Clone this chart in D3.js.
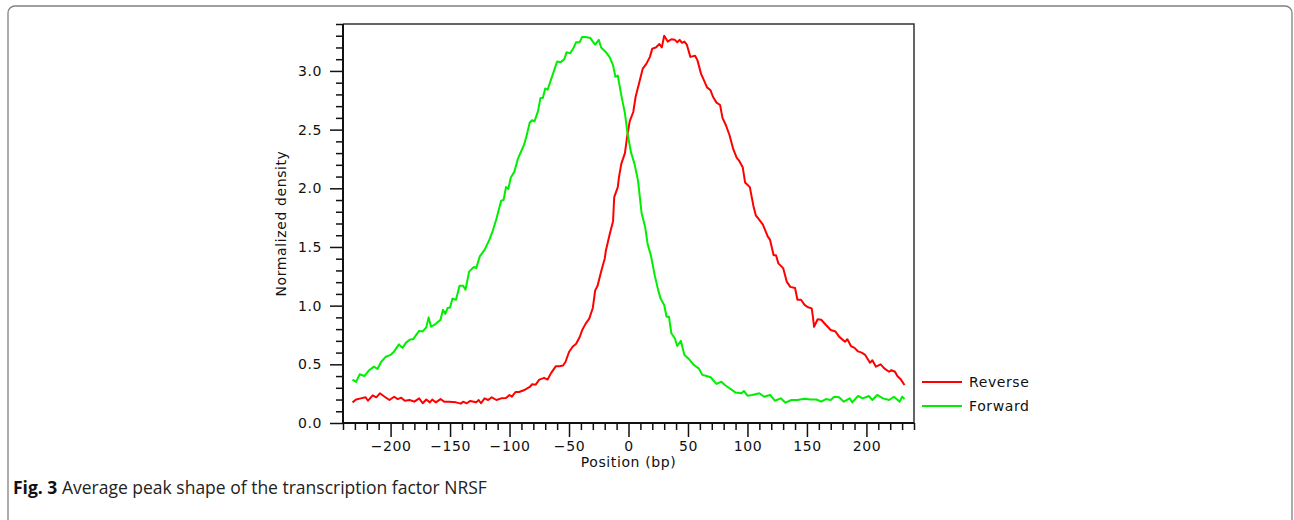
<!DOCTYPE html>
<html>
<head>
<meta charset="utf-8">
<title>Average peak shape of NRSF</title>
<script src="https://cdn.jsdelivr.net/npm/d3@7"></script>
<style>
    body { margin: 0; background: #fff; }
    .tickText text { font-family: "DejaVu Sans", sans-serif; font-size: 14px; letter-spacing: 0.6px; fill: #111; }
    .tickText line { stroke: #111; stroke-width: 1.5; }
    .label { font-family: "DejaVu Sans", sans-serif; font-size: 14px; letter-spacing: 0.6px; fill: #111; }
    .caption { font-family: "Open Sans", sans-serif; font-size: 17.5px; fill: #222; }
</style>
</head>
<body>
<script>
//anonymous function to wrap script
(function(){

    //pseudo-global variables
    var positionTicks = [-200, -150, -100, -50, 0, 50, 100, 150, 200]; //labelled x ticks (bp)
    var densityTicks = [0, 0.5, 1.0, 1.5, 2.0, 2.5, 3.0]; //labelled y ticks
    var seriesNames = ["Reverse", "Forward"];
    var seriesColors = ["#ff0000", "#00ee00"];

    //[position (bp), normalized density]
    var reversePts = [
        [-232,0.176],[-229,0.20],[-225,0.21],[-221,0.219],[-219,0.19],[-215,0.236],[-212,0.219],[-209,0.253],
        [-205,0.224],[-201,0.196],[-197,0.224],[-194,0.204],[-191,0.216],[-188,0.19],[-184,0.196],[-180,0.182],
        [-176,0.21],[-173,0.168],[-170,0.20],[-167,0.176],[-165,0.20],[-162,0.176],[-158,0.204],[-155,0.182],
        [-151,0.182],[-145,0.176],[-141,0.165],[-139,0.182],[-136,0.168],[-133,0.188],[-128,0.176],[-126,0.196],
        [-124,0.168],[-121,0.21],[-118,0.196],[-115,0.219],[-111,0.196],[-107,0.21],[-103,0.213],[-100,0.239],
        [-98,0.224],[-95,0.264],[-92,0.264],[-88,0.279],[-83,0.307],[-81,0.33],[-78,0.327],[-75,0.37],
        [-72,0.38],[-71,0.385],[-68,0.37],[-65,0.427],[-61,0.484],[-58,0.484],[-55,0.49],[-53,0.52],
        [-50,0.605],[-47,0.65],[-44,0.675],[-41,0.733],[-39,0.79],[-36,0.847],[-33,0.89],[-30,0.98],
        [-28,1.13],[-26,1.17],[-23,1.29],[-20,1.40],[-19,1.47],[-16,1.60],[-15,1.64],[-13,1.72],
        [-12,1.925],[-9,2.01],[-8,2.095],[-6,2.21],[-3,2.30],[-1,2.45],[1,2.57],[4,2.65],
        [6,2.78],[9,2.90],[12,3.02],[15,3.06],[18,3.12],[20,3.19],[23,3.20],[26,3.23],
        [28,3.20],[30,3.30],[33,3.25],[36,3.27],[39,3.265],[41,3.245],[43,3.265],[45,3.24],
        [47,3.25],[49,3.225],[52,3.12],[56,3.13],[58,3.09],[61,2.975],[63,2.93],[66,2.86],
        [69,2.835],[71,2.78],[74,2.73],[77,2.71],[79,2.60],[82,2.535],[85,2.45],[88,2.335],
        [91,2.26],[93,2.235],[96,2.18],[98,2.05],[102,2.01],[105,1.85],[107,1.77],[110,1.73],
        [113,1.69],[117,1.59],[119,1.56],[122,1.43],[124,1.43],[126,1.36],[130,1.32],[133,1.205],
        [136,1.16],[140,1.15],[142,1.05],[145,1.05],[148,1.006],[151,0.986],[154,0.977],[155,0.906],
        [156,0.82],[159,0.884],[162,0.88],[166,0.835],[170,0.793],[174,0.78],[177,0.736],[182,0.693],
        [184,0.713],[187,0.656],[190,0.64],[193,0.61],[196,0.60],[199,0.58],[203,0.514],[205,0.535],
        [208,0.48],[212,0.50],[215,0.465],[219,0.437],[221,0.45],[224,0.437],[226,0.40],[229,0.37],
        [232,0.324]
    ];

    var forwardPts = [
        [-232,0.37],[-229,0.35],[-226,0.415],[-222,0.40],[-218,0.45],[-214,0.48],[-211,0.46],[-208,0.52],
        [-204,0.565],[-200,0.58],[-197,0.61],[-193,0.67],[-190,0.64],[-187,0.685],[-184,0.71],[-181,0.715],
        [-176,0.785],[-173,0.78],[-170,0.815],[-168,0.90],[-166,0.82],[-162,0.845],[-158,0.88],[-156,0.965],
        [-154,0.93],[-152,0.98],[-150,0.985],[-148,1.06],[-145,1.05],[-142,1.17],[-139,1.17],[-137,1.135],
        [-134,1.29],[-130,1.33],[-128,1.32],[-125,1.42],[-121,1.475],[-117,1.56],[-114,1.64],[-111,1.74],
        [-109,1.82],[-107,1.895],[-105,1.90],[-103,2.01],[-101,1.995],[-99,2.09],[-96,2.14],[-93,2.25],
        [-90,2.32],[-88,2.365],[-86,2.435],[-83,2.56],[-81,2.58],[-79,2.57],[-76,2.66],[-74,2.77],
        [-72,2.77],[-70,2.85],[-68,2.84],[-65,2.93],[-62,3.02],[-60,3.08],[-57,3.075],[-54,3.10],
        [-52,3.16],[-49,3.15],[-46,3.20],[-44,3.245],[-41,3.245],[-39,3.29],[-36,3.29],[-32,3.28],
        [-30,3.25],[-28,3.225],[-25,3.265],[-23,3.20],[-19,3.16],[-16,3.12],[-13,3.05],[-11,2.95],
        [-9,2.96],[-6,2.79],[-3,2.64],[-1,2.48],[2,2.31],[5,2.21],[8,2.065],[11,1.79],
        [14,1.67],[16,1.53],[19,1.42],[22,1.26],[25,1.13],[27,1.06],[30,1.006],[32,0.906],
        [34,0.906],[36,0.765],[39,0.72],[41,0.656],[44,0.70],[47,0.58],[51,0.543],[55,0.494],
        [59,0.466],[62,0.41],[65,0.403],[69,0.39],[74,0.333],[78,0.352],[81,0.324],[85,0.296],
        [90,0.259],[95,0.253],[97,0.273],[100,0.233],[104,0.239],[110,0.253],[114,0.224],[119,0.239],
        [123,0.19],[128,0.21],[132,0.173],[137,0.196],[142,0.196],[148,0.207],[153,0.20],[158,0.20],
        [162,0.182],[166,0.204],[170,0.196],[173,0.224],[177,0.219],[181,0.182],[186,0.21],[188,0.176],
        [193,0.23],[197,0.21],[202,0.23],[205,0.196],[209,0.239],[214,0.21],[219,0.196],[223,0.224],
        [228,0.182],[230,0.224],[232,0.204]
    ];

    //begin script when window loads
    window.onload = setChart;

    function setChart(){
        var width = 1294,
            height = 520;

        //plot frame in page pixels
        var left = 343, right = 914, top = 24, bottom = 423;

        var svg = d3.select("body")
            .append("svg")
            .attr("width", width)
            .attr("height", height);

        //outer figure border (rounded, runs off the bottom)
        svg.append("rect")
            .attr("x", 8)
            .attr("y", 6)
            .attr("width", 1284)
            .attr("height", 540)
            .attr("rx", 7)
            .attr("fill", "none")
            .attr("stroke", "#808080")
            .attr("stroke-width", 1.3);

        //scales
        var x = d3.scaleLinear()
            .domain([-240, 240])
            .range([left, right]);

        var y = d3.scaleLinear()
            .domain([0, 3.4])
            .range([bottom, top]);

        //minor tick values (every 10 bp, every 0.1 density)
        var xMinor = d3.range(-240, 241, 10).filter(function(v){ return v % 50 != 0; });
        var yMinor = d3.range(0, 35, 1).map(function(v){ return v / 10; })
            .filter(function(v){ return Math.round(v * 10) % 5 != 0; });

        //x axis - minor then major ticks
        var xMinorAxis = svg.append("g")
            .attr("class", "tickText")
            .attr("transform", "translate(0," + bottom + ")")
            .call(d3.axisBottom(x).tickValues(xMinor).tickSize(7).tickSizeOuter(0).tickFormat(""));
        xMinorAxis.select(".domain").remove();

        var xMajorAxis = svg.append("g")
            .attr("class", "tickText")
            .attr("transform", "translate(0," + bottom + ")")
            .call(d3.axisBottom(x).tickValues(positionTicks).tickSize(14).tickSizeOuter(0).tickPadding(4).tickFormat(d3.format("d")));
        xMajorAxis.select(".domain").remove();

        //y axis - minor then major ticks
        var yMinorAxis = svg.append("g")
            .attr("class", "tickText")
            .attr("transform", "translate(" + left + ",0)")
            .call(d3.axisLeft(y).tickValues(yMinor).tickSize(7).tickSizeOuter(0).tickFormat(""));
        yMinorAxis.select(".domain").remove();

        var yMajorAxis = svg.append("g")
            .attr("class", "tickText")
            .attr("transform", "translate(" + left + ",0)")
            .call(d3.axisLeft(y).tickValues(densityTicks).tickSize(13).tickSizeOuter(0).tickPadding(8).tickFormat(d3.format(".1f")));
        yMajorAxis.select(".domain").remove();

        //curves
        var line = d3.line()
            .x(function(d){ return x(d[0]); })
            .y(function(d){ return y(d[1]); });

        var allSeries = [reversePts, forwardPts];

        svg.selectAll(".curve")
            .data(allSeries)
            .enter()
            .append("path")
            .attr("class", "curve")
            .attr("d", line)
            .attr("fill", "none")
            .attr("stroke", function(d, i){ return seriesColors[i]; })
            .attr("stroke-width", 2)
            .attr("stroke-linejoin", "round");

        //plot frame: thin top/right, heavier left/bottom
        svg.append("path")
            .attr("d", "M" + left + "," + top + "H" + right + "V" + bottom)
            .attr("fill", "none")
            .attr("stroke", "#333")
            .attr("stroke-width", 1.5);

        svg.append("path")
            .attr("d", "M" + left + "," + top + "V" + bottom + "H" + right)
            .attr("fill", "none")
            .attr("stroke", "#111")
            .attr("stroke-width", 2);

        //axis titles
        svg.append("text")
            .attr("class", "label")
            .attr("x", x(0))
            .attr("y", 467)
            .attr("text-anchor", "middle")
            .text("Position (bp)");

        svg.append("text")
            .attr("class", "label")
            .attr("transform", "translate(286," + ((top + bottom) / 2) + ") rotate(-90)")
            .attr("text-anchor", "middle")
            .text("Normalized density");

        //legend
        var legend = svg.selectAll(".legendItem")
            .data(seriesNames)
            .enter()
            .append("g")
            .attr("class", "legendItem")
            .attr("transform", function(d, i){ return "translate(922," + (382 + i * 24) + ")"; });

        legend.append("line")
            .attr("x1", 0)
            .attr("x2", 40)
            .attr("stroke", function(d, i){ return seriesColors[i]; })
            .attr("stroke-width", 2);

        legend.append("text")
            .attr("class", "label")
            .attr("x", 47)
            .attr("dy", "0.35em")
            .text(function(d){ return d; });

        //figure caption
        var caption = svg.append("text")
            .attr("class", "caption")
            .attr("x", 13)
            .attr("y", 494);
        caption.append("tspan")
            .attr("font-weight", "bold")
            .attr("fill", "#111")
            .text("Fig. 3");
        caption.append("tspan")
            .text(" Average peak shape of the transcription factor NRSF");
    };

})();
</script>
</body>
</html>
